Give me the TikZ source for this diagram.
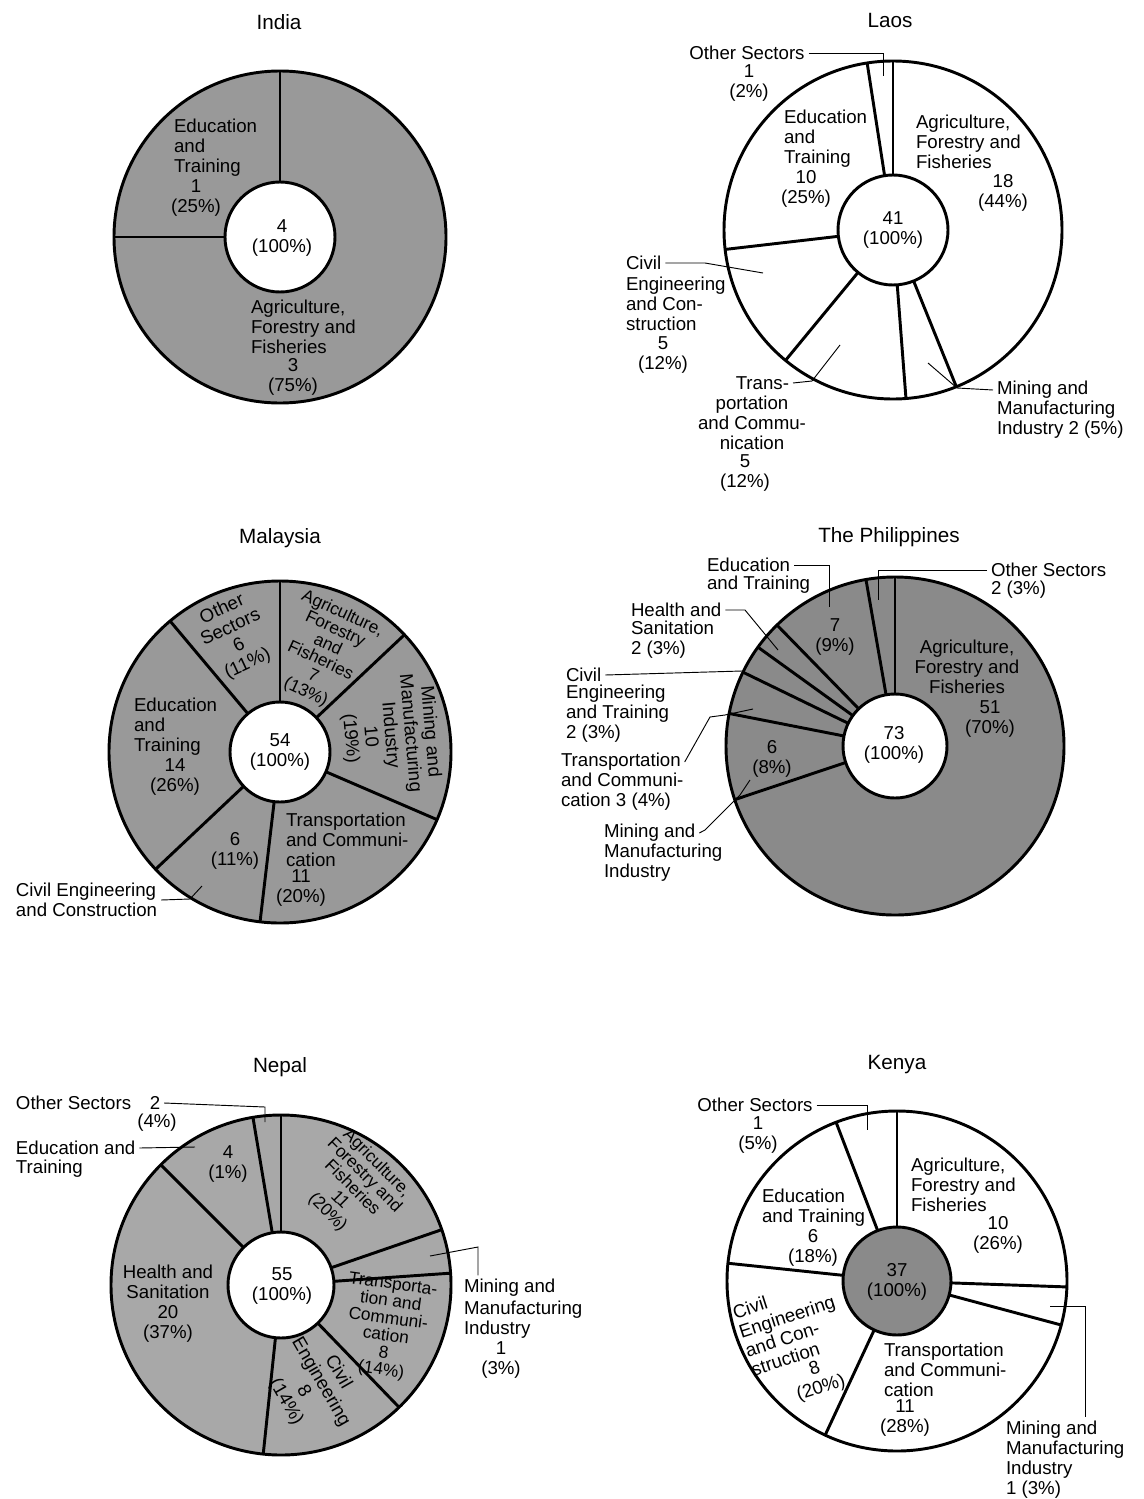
\documentclass[tikz,border=0pt]{standalone}
\usepackage{fontspec}
\setmainfont{Liberation Sans}
\newcommand\lbsize{\fontsize{14}{15}\selectfont}
\newcommand\smsize{\fontsize{13}{13}\selectfont}
\newcommand\ttsize{\fontsize{15.5}{18}\selectfont}
\definecolor{fillmid}{gray}{0.60}
\definecolor{filldark}{gray}{0.54}
\definecolor{filllight}{gray}{0.66}
\tikzset{
  lbl/.style={inner sep=0pt, outer sep=3pt, font=\lbsize, align=center},
  lft/.style={lbl, align=left, anchor=west},
  ttl/.style={inner sep=0pt, font=\ttsize},
  ring/.style={line width=2.2pt},
  lead/.style={line width=0.7pt},
}
\begin{document}
\begin{tikzpicture}[x=0.75pt,y=-0.75pt]
\useasboundingbox (0,0) rectangle (1143,1499);

% India
\node[ttl] (indt) at (279,22) {India};
\coordinate (indc) at (280,237);
\fill[fillmid] (indc) circle (166);
\fill[white] (indc) circle (55);
\draw[ring] (indc) circle (166);
\draw[ring] (indc) circle (55);
\foreach \a in {90,180}
  \draw[ring] ([shift={(-\a:55)}]indc) -- ([shift={(-\a:166)}]indc);
\node[lft] (indedu) at (170,148) {Education\\and\\Training};
\node[lbl] (indedun) at (196,198) {1\\(25\%)};
\node[lbl] (indtot) at (282,238) {4\\(100\%)};
\node[lft] (indagr) at (247,327) {Agriculture,\\Forestry and\\Fisheries};
\node[lbl] (indagrn) at (293,377) {3\\(75\%)};

% Laos
\node[ttl] (laot) at (890,20) {Laos};
\coordinate (laoc) at (893,230);
\draw[ring] (laoc) circle (169);
\draw[ring] (laoc) circle (55);
\foreach \a in {90,-68,-85.6,-129.5,-173.4,-261.2}
  \draw[ring] ([shift={(-\a:55)}]laoc) -- ([shift={(-\a:169)}]laoc);
\node[lbl] (laooth) at (747,53) {Other Sectors};
\node[lbl] (laoothn) at (749,83) {1\\(2\%)};
\coordinate (laoothp) at (883,76);
\draw[lead] (laooth.east) -| (laoothp);
\node[lft] (laoedu) at (780,139) {Education\\and\\Training};
\node[lbl] (laoedun) at (806,189) {10\\(25\%)};
\node[lft] (laoagr) at (912,142) {Agriculture,\\Forestry and\\Fisheries};
\node[lbl] (laoagrn) at (1003,193) {18\\(44\%)};
\node[lbl] (laotot) at (893,230) {41\\(100\%)};
\node[lbl, anchor=west] (laociv) at (622,263) {Civil};
\node[lft] (laocivb) at (622,304) {Engineering\\and Con-\\struction};
\node[lbl] (laocivn) at (663,355) {5\\(12\%)};
\coordinate (laocivp) at (763,273);
\draw[lead] (laociv.east) -- (705,263) -- (laocivp);
\node[lbl, anchor=east] (laotra) at (793,383) {Trans-};
\node[lbl] (laotrab) at (752,423) {portation\\and Commu-\\nication};
\node[lbl] (laotran) at (745,473) {5\\(12\%)};
\coordinate (laotrap) at (840,345);
\draw[lead] (laotra.east) -- (812,381) -- (laotrap);
\node[lbl, anchor=west] (laomin) at (993,390) {Mining and};
\node[lft] (laominb) at (993,420) {Manufacturing\\Industry 2 (5\%)};
\coordinate (laominp) at (928,363);
\draw[lead] (laomin.west) -- (957,388) -- (laominp);

% Malaysia
\node[ttl] (malt) at (280,538) {Malaysia};
\coordinate (malc) at (280,752);
\fill[fillmid] (malc) circle (171);
\fill[white] (malc) circle (50);
\draw[ring] (malc) circle (171);
\draw[ring] (malc) circle (50);
\foreach \a in {90,43.3,-23.3,-96.7,-136.7,-230}
  \draw[ring] ([shift={(-\a:50)}]malc) -- ([shift={(-\a:171)}]malc);
\node[lbl, rotate=25] (maloth) at (235,637) {Other\\Sectors\\6\\(11\%)};
\node[lbl, font=\smsize, rotate=-25] (malagr) at (324,653) {Agriculture,\\Forestry\\and\\Fisheries\\7\\(13\%)};
\node[lbl, rotate=-85] (malmin) at (390,735) {Mining and\\Manufacturing\\Industry\\10\\(19\%)};
\node[lft] (maledu) at (130,727) {Education\\and\\Training};
\node[lbl] (maledun) at (175,777) {14\\(26\%)};
\node[lbl] (malcivn) at (235,851) {6\\(11\%)};
\node[lft] (maltra) at (282,840) {Transportation\\and Communi-\\cation};
\node[lbl] (maltran) at (301,888) {11\\(20\%)};
\node[lbl] (maltot) at (280,752) {54\\(100\%)};
\node[lft] (malciv) at (12,900) {Civil Engineering\\and Construction};
\coordinate (malcivp) at (202,886);
\draw[lead] (malciv.east) -- (190,899) -- (malcivp);

% The Philippines
\node[ttl] (phit) at (889,537) {The Philippines};
\coordinate (phic) at (895,746);
\fill[filldark] (phic) circle (169);
\fill[white] (phic) circle (52);
\draw[ring] (phic) circle (169);
\draw[ring] (phic) circle (52);
\foreach \a in {90,-161.5,-191.1,-205.9,-215.8,-225.7,-260.1}
  \draw[ring] ([shift={(-\a:52)}]phic) -- ([shift={(-\a:169)}]phic);
\node[lbl, anchor=west] (phioth) at (987,570) {Other Sectors};
\node[lbl, anchor=west] (phiothn) at (987,590) {2 (3\%)};
\coordinate (phiothp) at (878,600);
\draw[lead] (phioth.west) -| (phiothp);
\node[lbl, anchor=west] (phiedu) at (703,565) {Education};
\node[lbl, anchor=west] (phiedub) at (703,585) {and Training};
\coordinate (phiedup) at (829,607);
\draw[lead] (phiedu.east) -| (phiedup);
\node[lbl] (phiedun) at (835,637) {7\\(9\%)};
\node[lbl, anchor=west] (phihea) at (627,610) {Health and};
\node[lft] (phiheab) at (627,640) {Sanitation\\2 (3\%)};
\coordinate (phiheap) at (778,650);
\draw[lead] (phihea.east) -- (745,610) -- (phiheap);
\node[lbl, anchor=west] (phiciv) at (562,675) {Civil};
\node[lft] (phicivb) at (562,714) {Engineering\\and Training\\2 (3\%)};
\coordinate (phicivp) at (742,671);
\draw[lead] (phiciv.east) -- (phicivp);
\node[lbl, anchor=west] (phitra) at (557,762) {Transportation};
\node[lft] (phitrab) at (557,792) {and Communi-\\cation 3 (4\%)};
\coordinate (phitrap) at (753,709);
\draw[lead] (phitra.east) -- (710,717) -- (725,715) -- (phitrap);
\node[lbl, anchor=west] (phimin) at (600,833) {Mining and};
\node[lft] (phiminb) at (600,863) {Manufacturing\\Industry};
\coordinate (phiminp) at (750,780);
\draw[lead] (phimin.east) -- (705,830) -- (740,795) -- (phiminp);
\node[lbl] (phiminn) at (772,759) {6\\(8\%)};
\node[lbl] (phiagr) at (967,667) {Agriculture,\\Forestry and\\Fisheries};
\node[lbl] (phiagrn) at (990,719) {51\\(70\%)};
\node[lbl] (phitot) at (894,745) {73\\(100\%)};

% Nepal
\node[ttl] (nept) at (280,1067) {Nepal};
\coordinate (nepc) at (281,1285);
\fill[filllight] (nepc) circle (170);
\fill[white] (nepc) circle (53);
\draw[ring] (nepc) circle (170);
\draw[ring] (nepc) circle (53);
\foreach \a in {90,19,4,-46,-96,-225,-260.5}
  \draw[ring] ([shift={(-\a:53)}]nepc) -- ([shift={(-\a:170)}]nepc);
\node[lbl, anchor=west] (nepoth) at (12,1103) {Other Sectors\quad 2};
\node[lbl] (nepothn) at (157,1123) {(4\%)};
\coordinate (nepothp) at (265,1122);
\draw[lead] (nepoth.east) -- (265,1107) -- (nepothp);
\node[lbl, anchor=west] (nepedu) at (12,1148) {Education and};
\node[lbl, anchor=west] (nepedub) at (12,1169) {Training};
\coordinate (nepedup) at (195,1147);
\draw[lead] (nepedu.east) -- (nepedup);
\node[lbl] (nepedun) at (228,1164) {4\\(1\%)};
\node[lbl, font=\smsize, rotate=-45] (nepagr) at (352,1188) {Agriculture,\\Forestry and\\Fisheries\\11\\(20\%)};
\node[lbl, anchor=west] (nepmin) at (460,1288) {Mining and};
\node[lft] (nepminb) at (460,1320) {Manufacturing\\Industry};
\node[lbl] (nepminn) at (501,1360) {1\\(3\%)};
\coordinate (nepminp) at (430,1256);
\coordinate (nepminq) at (478,1247);
\draw[lead] (nepminp) -- (nepminq) -- (nepminq |- nepmin.north);
\node[lbl, font=\smsize, rotate=-8] (neptra) at (387,1328) {Transporta-\\tion and\\Communi-\\cation\\8\\(14\%)};
\node[lbl, rotate=-60] (nepciv) at (312,1387) {Civil\\Engineering\\8\\(14\%)};
\node[lbl] (nephea) at (168,1304) {Health and\\Sanitation\\20\\(37\%)};
\node[lbl] (neptot) at (282,1286) {55\\(100\%)};

% Kenya
\node[ttl] (kent) at (897,1065) {Kenya};
\coordinate (kenc) at (897,1281);
\fill[filldark] (kenc) circle (54);
\draw[ring] (kenc) circle (170);
\draw[ring] (kenc) circle (54);
\foreach \a in {90,-2,-15,-115,-186,-249}
  \draw[ring] ([shift={(-\a:54)}]kenc) -- ([shift={(-\a:170)}]kenc);
\node[lbl] (kenoth) at (755,1105) {Other Sectors};
\node[lbl] (kenothn) at (758,1135) {1\\(5\%)};
\coordinate (kenothp) at (867,1130);
\draw[lead] (kenoth.east) -| (kenothp);
\node[lft] (kenagr) at (907,1185) {Agriculture,\\Forestry and\\Fisheries};
\node[lbl] (kenagrn) at (998,1235) {10\\(26\%)};
\node[lft] (kenedu) at (758,1208) {Education\\and Training};
\node[lbl] (kenedun) at (813,1248) {6\\(18\%)};
\node[lbl, align=left, rotate=18] (kenciv) at (790,1326) {Civil\\Engineering\\and Con-\\struction};
\node[lbl, rotate=18] (kencivn) at (818,1379) {8\\(20\%)};
\node[lft] (kentra) at (880,1370) {Transportation\\and Communi-\\cation};
\node[lbl] (kentran) at (905,1418) {11\\(28\%)};
\node[lbl, anchor=west] (kenmin) at (1002,1430) {Mining and};
\node[lft] (kenminb) at (1002,1470) {Manufacturing\\Industry\\1 (3\%)};
\coordinate (kenminp) at (1050,1306);
\coordinate (kenminq) at (1085,1306);
\draw[lead] (kenminp) -- (kenminq) -- (kenminq |- kenmin.north);
\node[lbl] (kentot) at (897,1282) {37\\(100\%)};
\end{tikzpicture}
\end{document}
